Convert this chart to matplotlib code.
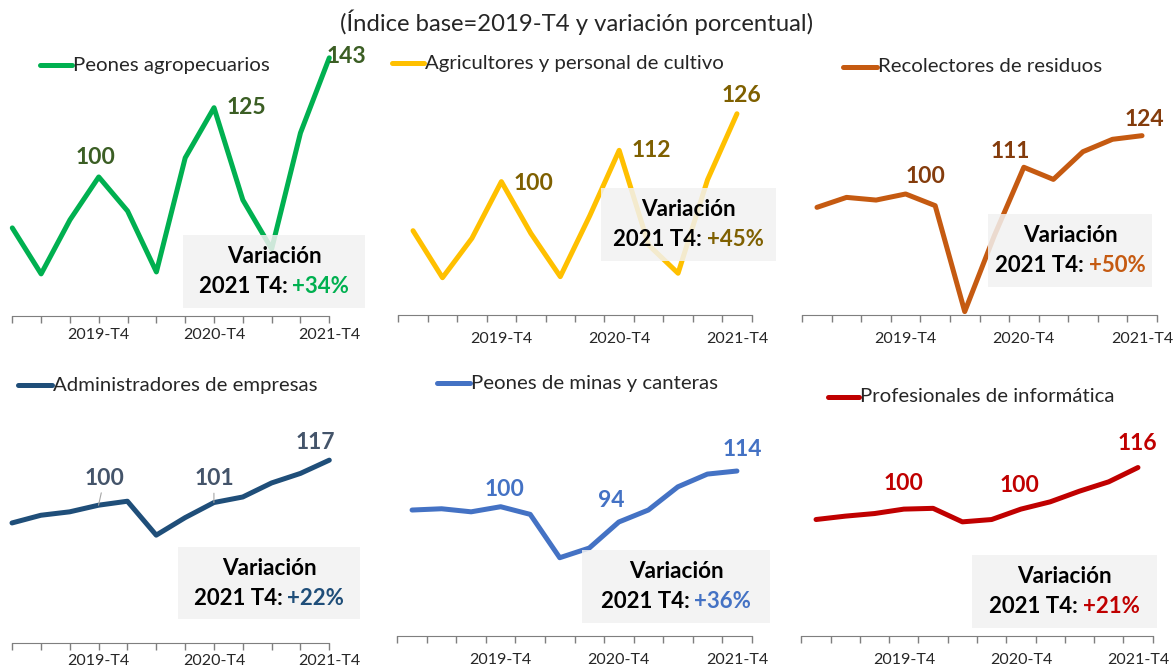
import numpy as np
import matplotlib.pyplot as plt
from matplotlib.lines import Line2D
from matplotlib.patches import Rectangle

plt.rcParams['font.family'] = ['Lato', 'DejaVu Sans']

quarters = ['2019-T1', '2019-T2', '2019-T3', '2019-T4',
            '2020-T1', '2020-T2', '2020-T3', '2020-T4',
            '2021-T1', '2021-T2', '2021-T3', '2021-T4']

names = ['Peones agropecuarios', 'Agricultores y personal de cultivo',
         'Recolectores de residuos', 'Administradores de empresas',
         'Peones de minas y canteras', 'Profesionales de informática']

peones_agro = [81.6, 65.0, 84.5, 100, 87.7, 65.7, 106.9, 125, 91.7, 74.0, 115.9, 143]
agricultores = [81.2, 63.2, 78.3, 100, 80.2, 63.6, 86.9, 112, 75.7, 64.9, 100.7, 126]
recolectores = [94.5, 98.6, 97.5, 100, 95.2, 51.6, 82.8, 111, 106.0, 117.4, 122.5, 124]
administradores = [93.3, 96.2, 97.5, 100, 101.5, 88.7, 95.3, 101, 103.1, 108.4, 112.0, 117]
peones_minas = [98.7, 99.2, 98.0, 100, 97.0, 80.0, 83.8, 94, 98.7, 107.8, 112.8, 114]
informatica = [96.0, 97.3, 98.3, 100, 100.3, 95.1, 96.0, 100, 102.8, 106.9, 110.5, 116]

variacion = ['+34%', '+45%', '+50%', '+22%', '+36%', '+21%']
labelled = [3, 7, 11]

series = [peones_agro, agricultores, recolectores,
          administradores, peones_minas, informatica]

# styles
line_colors = ['#00B050', '#FFC000', '#C55A11', '#1F4E79', '#4472C4', '#C00000']
label_colors = ['#3B5E24', '#7F6000', '#843C0C', '#44546A', '#4472C4', '#C00000']
pct_colors = ['#00B050', '#7F6000', '#C55A11', '#1F4E79', '#4472C4', '#C00000']

W, H = 1174, 667

def fx(px):
    return px / W

def fy(py):
    return 1 - py / H

# layout in pixels: left, right, axis line y, px per unit, y min, points on ticks
layout = [
    (12.3, 329.3, 316, 2.77, 49.8, True),
    (398.3, 751.7, 315, 2.61, 48.9, False),
    (802.2, 1156.8, 315, 2.43, 50.2, False),
    (12.0, 329.3, 643, 2.65, 48.0, True),
    (397.3, 751.7, 636, 2.55, 49.3, False),
    (801.4, 1152.6, 636, 2.60, 51.2, False),
]
tick_pad = [8.4, 12.0, 12.0, 8.2, 12.2, 12.2]
legend_pos = [(40, 72, 65), (392, 424, 63), (843, 877, 67),
              (18, 52, 385), (437, 470, 383), (828, 859, 397)]
box_pos = [(183, 365, 235, 308), (601, 776, 188, 261), (988, 1152, 214, 287),
           (178, 360, 547, 619), (582, 770, 550, 623), (972, 1157, 555, 628)]
# label offsets in pixels (dx, dy down)
label_off = [
    [(-3, -19), (32, 0), (17, -1)],
    [(32, 2), (32, 0), (4, -18)],
    [(20, -17), (-14, -16), (2, -16)],
    [(6, -27), (0, -24), (-14, -18)],
    [(4, -17), (-8, -22), (5, -22)],
    [(0, -26), (-1, -24), (-1, -24)],
]

fig = plt.figure(figsize=(W / 100, H / 100), dpi=100)

fig.text(fx(577), fy(22), '(Índice base=2019-T4 y variación porcentual)',
         ha='center', va='center', fontsize=17.2, color='#262626')

x = np.arange(len(quarters))
t4 = [i for i, q in enumerate(quarters) if q.endswith('T4')]

renderer = fig.canvas.get_renderer()

for k, vals in enumerate(series):
    left, right, base, ppu, ymin, on_tick = layout[k]
    ax = fig.add_axes([fx(left), fy(base), (right - left) / W, 100 * ppu / H])
    ax.patch.set_alpha(0)
    ax.set_ylim(ymin, ymin + 100)
    ax.xaxis.remove_overlapping_locs = False
    if on_tick:
        ax.set_xlim(0, len(quarters) - 1)
        ax.set_xticks(x)
    else:
        ax.set_xlim(-0.5, len(quarters) - 0.5)
        ax.set_xticks(np.arange(-0.5, len(quarters), 1))
    ax.set_xticks(t4, minor=True)
    ax.set_xticklabels([quarters[i] for i in t4], minor=True)
    ax.tick_params(axis='x', which='major', length=5, width=1, color='#7f7f7f',
                   labelbottom=False)
    ax.tick_params(axis='x', which='minor', length=0, pad=tick_pad[k], labelsize=11.5,
                   labelcolor='#262626')
    ax.set_yticks([])
    for s in ['top', 'left', 'right']:
        ax.spines[s].set_visible(False)
    ax.spines['bottom'].set_color('#7f7f7f')

    ax.plot(x, vals, color=line_colors[k], lw=3.6, solid_joinstyle='round',
            solid_capstyle='round', clip_on=False)

    for j, idx in enumerate(labelled):
        dx, dy = label_off[k][j]
        arrow = None
        if k == 3 and j < 2:
            arrow = dict(arrowstyle='-', color='#a6a6a6', lw=0.8, shrinkA=1, shrinkB=0)
        ax.annotate(f'{round(vals[idx])}', (idx, vals[idx]), xytext=(dx, -dy),
                    textcoords='offset pixels', ha='center', va='center',
                    fontsize=16.5, fontweight='bold', color=label_colors[k],
                    arrowprops=arrow, annotation_clip=False)

    # legend entry
    lx0, lx1, ly = legend_pos[k]
    fig.add_artist(Line2D([fx(lx0), fx(lx1)], [fy(ly), fy(ly)], color=line_colors[k],
                          lw=3.6, solid_capstyle='round'))
    fig.text(fx(lx1 + 1), fy(ly), names[k], ha='left', va='center', fontsize=14.7,
             color='#262626')

    # variation box
    bx0, bx1, by0, by1 = box_pos[k]
    fig.add_artist(Rectangle((fx(bx0), fy(by1)), (bx1 - bx0) / W, (by1 - by0) / H,
                             transform=fig.transFigure, facecolor='#f2f2f2',
                             edgecolor='none', alpha=0.85, zorder=2))
    cx = (bx0 + bx1) / 2
    bh = by1 - by0
    fig.text(fx(cx), fy(by0 + 0.3 * bh), 'Variación', ha='center', va='center',
             fontsize=16.2, fontweight='bold', color='black', zorder=3)
    t1 = fig.text(0, fy(by0 + 0.71 * bh), '2021 T4:', ha='left', va='center',
                  fontsize=16, fontweight='bold', color='black', zorder=3)
    t2 = fig.text(0, fy(by0 + 0.71 * bh), variacion[k], ha='left', va='center',
                  fontsize=16, fontweight='bold', color=pct_colors[k], zorder=3)
    w1 = t1.get_window_extent(renderer).width
    w2 = t2.get_window_extent(renderer).width
    gap = 5
    start = cx - (w1 + gap + w2) / 2
    t1.set_x(fx(start))
    t2.set_x(fx(start + w1 + gap))

fig.savefig('out.png', dpi=100)
